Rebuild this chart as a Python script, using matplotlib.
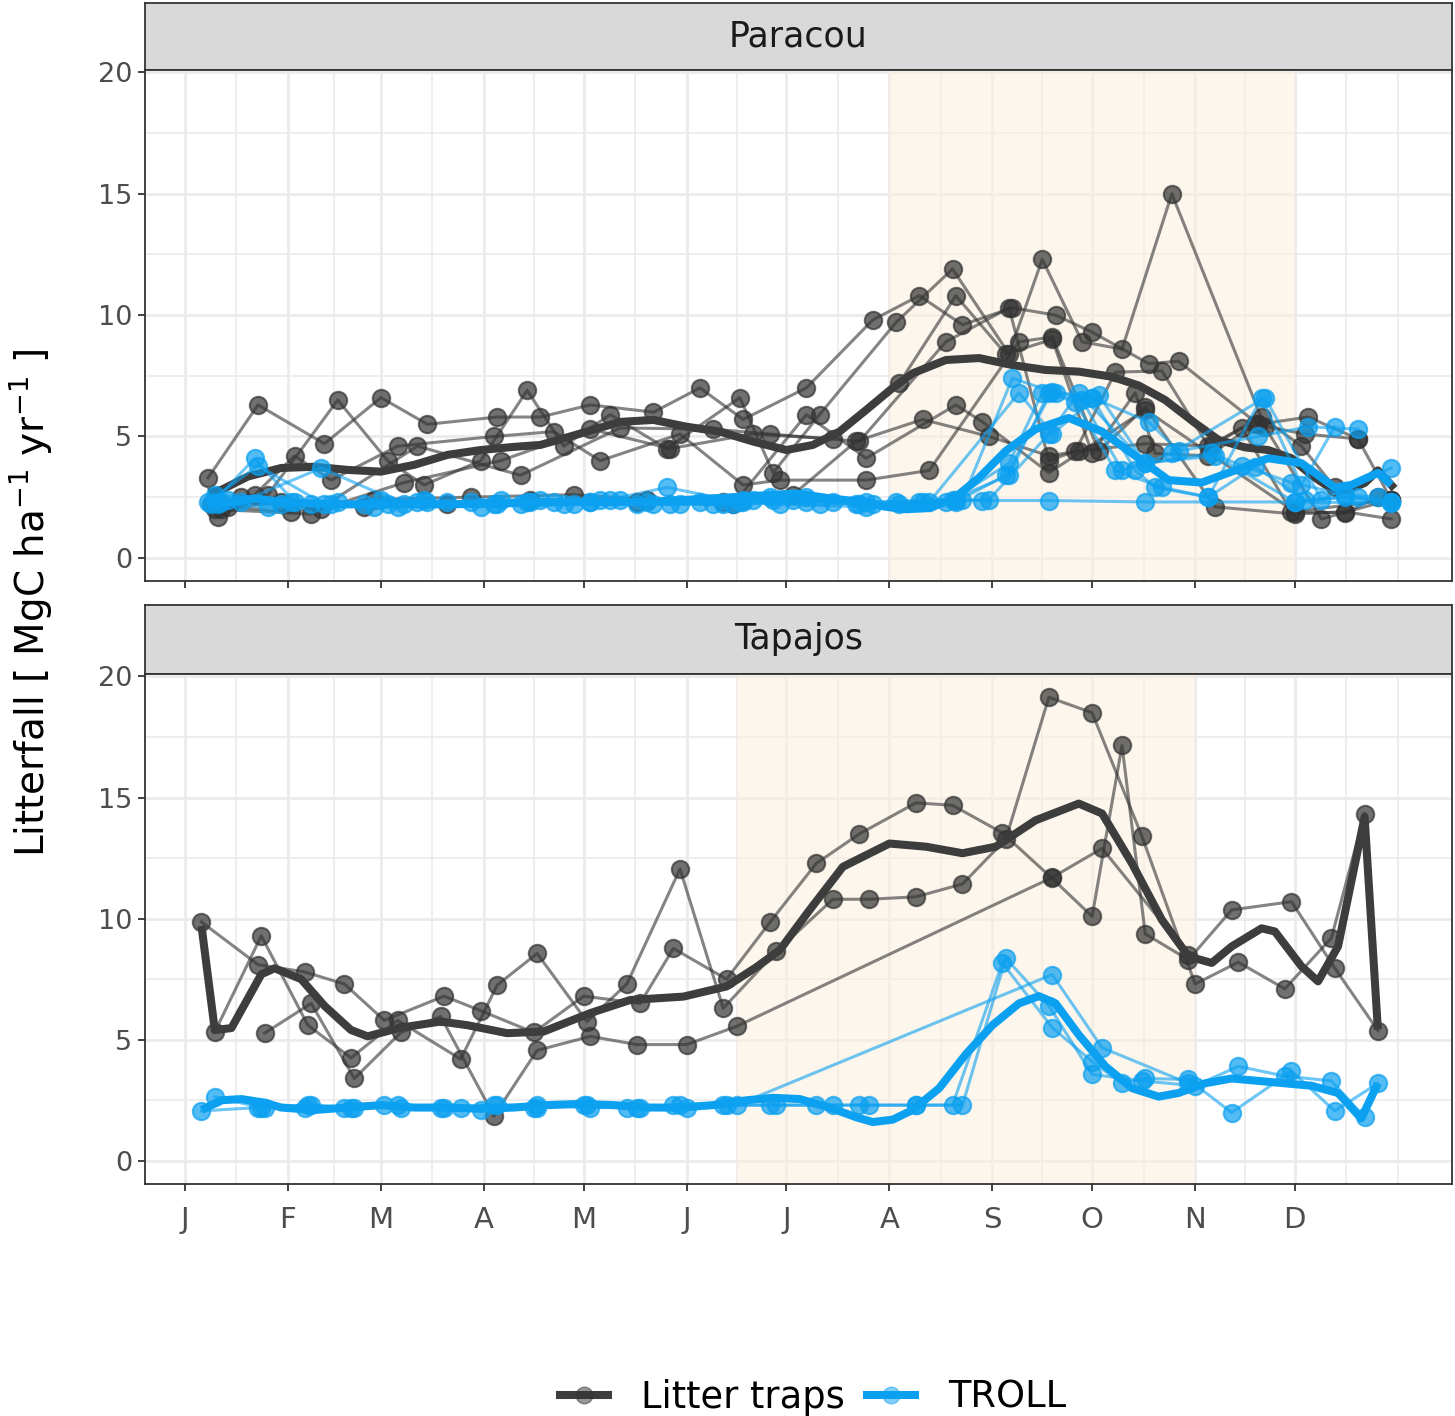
import matplotlib.pyplot as plt
from matplotlib.lines import Line2D

# month starts (day of year) and their labels
month_doy = [1, 32, 60, 91, 121, 152, 182, 213, 244, 274, 305, 335]
month_lab = ["J", "F", "M", "A", "M", "J", "J", "A", "S", "O", "N", "D"]
minor_doy = [16.5, 46, 75.5, 106, 136.5, 167, 197.5, 228.5, 259, 289.5, 320, 350.5, 366]

# dry season (shaded)
par_dry = [213, 335]
tap_dry = [167, 305]

# ---- Paracou: litter traps and TROLL at the same dates, one list per year
par1_doy = [8, 23, 43, 60, 74, 95, 108, 123, 142, 156, 169, 188, 208, 222, 235, 250, 263, 274, 291, 300, 324, 339, 354]
par1_trap = [3.3, 6.3, 4.7, 6.6, 5.5, 5.8, 5.8, 6.3, 6.0, 7.0, 5.7, 7.0, 9.8, 10.8, 9.6, 10.3, 10.0, 9.3, 8.0, 8.1, 5.5, 5.8, 4.9]
par1_troll = [2.3, 3.8, 2.2, 2.4, 2.3, 2.2, 2.4, 2.3, 2.2, 2.3, 2.4, 2.5, 2.2, 2.3, 2.4, 7.4, 6.8, 6.6, 5.6, 4.4, 5.0, 5.4, 5.3]

par2_doy = [11, 26, 47, 62, 73, 90, 104, 115, 129, 146, 168, 178, 192, 215, 232, 249, 259, 271, 283, 298, 326, 343, 364]
par2_trap = [1.7, 2.6, 6.5, 4.0, 3.0, 4.0, 6.9, 4.6, 5.9, 4.5, 6.6, 3.5, 5.9, 9.7, 11.9, 8.4, 12.3, 8.9, 8.6, 15.0, 5.4, 1.6, 2.4]
par2_troll = [2.2, 2.1, 2.3, 2.2, 2.4, 2.1, 2.3, 2.2, 2.4, 2.9, 2.3, 2.4, 2.2, 2.3, 2.4, 3.9, 6.8, 6.5, 3.6, 4.3, 6.6, 2.4, 3.7]

par3_doy = [9, 22, 34, 45, 65, 94, 112, 126, 150, 169, 180, 206, 225, 252, 262, 276, 290, 311, 335, 350, 364]
par3_trap = [2.2, 2.6, 4.2, 3.2, 4.6, 5.0, 5.2, 4.0, 5.1, 3.0, 3.2, 3.2, 3.6, 8.9, 9.1, 4.4, 6.2, 2.1, 1.8, 1.9, 1.6]
par3_troll = [2.2, 4.1, 2.3, 2.2, 2.1, 2.2, 2.3, 2.4, 2.2, 2.3, 2.2, 2.1, 2.3, 6.8, 5.1, 6.7, 3.9, 4.2, 2.3, 2.5, 2.3]

par4_doy = [10, 39, 71, 102, 132, 160, 177, 204, 230, 249, 261, 269, 281, 295, 309, 325, 337, 347]
par4_trap = [2.0, 1.8, 4.6, 3.4, 5.35, 5.3, 5.1, 4.8, 8.9, 10.3, 4.0, 4.4, 7.65, 7.7, 4.6, 5.8, 4.6, 2.9]
par4_troll = [2.6, 2.2, 2.3, 2.2, 2.4, 2.2, 2.5, 2.2, 2.3, 3.4, 6.8, 6.4, 3.6, 2.9, 2.5, 6.6, 3.0, 5.4]

par5_doy = [12, 30, 55, 80, 105, 137, 166, 188, 206, 233, 241, 261, 290, 335, 364]
par5_trap = [2.0, 2.3, 2.1, 2.2, 2.4, 2.3, 2.2, 5.9, 4.1, 6.3, 5.6, 3.5, 6.1, 1.9, 2.4]
par5_troll = [2.3, 2.2, 2.2, 2.3, 2.3, 2.2, 2.2, 2.3, 2.3, 2.4, 2.36, 2.36, 2.3, 2.3, 2.26]

par6_doy = [14, 33, 58, 87, 118, 140, 163, 184, 203, 223, 243, 261, 270, 290, 310, 319, 334, 350, 360]
par6_trap = [2.1, 1.9, 2.4, 2.5, 2.6, 2.4, 2.3, 2.6, 4.8, 5.7, 5.0, 4.2, 4.4, 4.7, 4.6, 5.35, 1.9, 1.85, 2.5]
par6_troll = [2.4, 2.3, 2.1, 2.3, 2.2, 2.3, 2.2, 2.4, 2.2, 2.3, 2.4, 5.1, 6.8, 3.9, 4.3, 3.8, 3.1, 2.6, 2.5]

par7_doy = [18, 42, 67, 96, 123, 147, 172, 196, 216, 233, 248, 262, 274, 287, 293, 309, 323, 338, 354, 364]
par7_trap = [2.5, 2.0, 3.1, 4.0, 5.3, 4.5, 5.1, 4.9, 7.2, 10.8, 8.4, 9.0, 4.3, 6.8, 4.3, 4.2, 5.5, 5.1, 4.9, 2.4]
par7_troll = [2.3, 3.7, 2.2, 2.4, 2.3, 2.2, 2.4, 2.3, 2.2, 2.3, 3.4, 6.85, 6.6, 3.6, 2.9, 2.5, 3.75, 2.4, 2.5, 2.3]

# Paracou smoothed means
par_mean_doy = [8, 12, 20, 30, 40, 50, 60, 70, 80, 90, 100, 108, 117, 132, 142, 152, 162, 172, 182, 190, 198, 206,
                214, 220, 230, 240, 250, 260, 270, 280, 288, 296, 305, 312, 320, 327, 334, 340, 346, 351, 356, 360, 365]
par_mean_trap = [2.7, 2.8, 3.35, 3.7, 3.75, 3.62, 3.55, 3.83, 4.24, 4.44, 4.57, 4.65, 5.0, 5.6, 5.68, 5.4, 5.2, 4.79,
                 4.44, 4.65, 5.2, 6.09, 7.0, 7.6, 8.15, 8.23, 7.94, 7.74, 7.67, 7.46, 7.1, 6.5, 5.55, 4.86, 4.55, 4.44,
                 4.1, 3.4, 2.85, 2.8, 3.08, 3.6, 2.85]
par_mean_troll_doy = [8, 15, 22, 30, 45, 60, 80, 100, 120, 140, 160, 185, 195, 205, 212, 218, 225, 232, 240, 248, 257,
                      267, 277, 287, 297, 307, 317, 327, 337, 347, 352, 360, 364]
par_mean_troll = [2.2, 2.3, 2.45, 2.3, 2.2, 2.2, 2.2, 2.25, 2.3, 2.3, 2.45, 2.65, 2.45, 2.3, 2.1, 2.0, 2.05, 2.4, 3.3,
                  4.4, 5.3, 5.76, 5.2, 4.2, 3.2, 3.1, 3.6, 4.1, 3.9, 2.9, 3.0, 3.5, 3.0]

# ---- Tapajos
tap1_doy = [6, 23, 37, 49, 61, 79, 90, 106, 121, 138, 148, 164, 177, 191, 204, 221, 232, 247, 262, 274, 283, 290, 303, 316, 334, 347, 360]
tap1_trap = [9.86, 8.1, 7.8, 7.3, 5.8, 6.8, 6.2, 5.3, 6.8, 6.5, 8.77, 7.5, 9.84, 12.28, 13.5, 14.78, 14.68, 13.54, 11.66, 10.09, 17.15, 9.37, 8.3, 10.36, 10.7, 7.96, 5.38]
tap1_troll = [2.06, 2.2, 2.2, 2.2, 2.3, 2.2, 2.1, 2.2, 2.3, 2.2, 2.3, 2.3, 2.3, 2.3, 2.3, 2.3, 2.3, 8.17, 5.5, 4.1, 3.2, 3.4, 3.36, 1.99, 3.7, 2.06, 3.2]

tap2_doy = [10, 24, 38, 51, 65, 84, 95, 107, 122, 134, 150, 163, 179, 196, 207, 221, 235, 248, 261, 274, 289, 305, 318, 332, 346, 356]
tap2_trap = [5.32, 9.29, 5.6, 4.25, 5.8, 4.2, 7.26, 8.56, 5.75, 7.3, 12.05, 6.3, 8.65, 10.8, 10.8, 10.9, 11.43, 13.27, 19.14, 18.5, 13.4, 7.3, 8.2, 7.1, 9.2, 14.34]
tap2_troll = [2.64, 2.2, 2.3, 2.2, 2.3, 2.2, 2.3, 2.2, 2.3, 2.2, 2.3, 2.3, 2.3, 2.3, 2.3, 2.3, 2.3, 8.37, 6.4, 3.57, 3.3, 3.1, 3.9, 3.5, 3.3, 1.8]

tap3_doy = [25, 39, 52, 66, 78, 94, 107, 123, 137, 152, 167, 262, 277, 303]
tap3_trap = [5.27, 6.5, 3.4, 5.3, 5.96, 1.85, 4.56, 5.14, 4.8, 4.8, 5.55, 11.7, 12.9, 8.5]
tap3_troll = [2.2, 2.3, 2.2, 2.2, 2.2, 2.3, 2.3, 2.2, 2.2, 2.2, 2.3, 7.69, 4.67, 3.2]

tap_mean_doy = [6, 10, 15, 24, 28, 36, 43, 51, 56, 66, 78, 86, 98, 109, 123, 135, 151, 164, 173, 180, 189, 199, 213,
                224, 235, 245, 257, 270, 277, 286, 295, 303, 310, 316, 325, 329, 337, 342, 348, 356, 360]
tap_mean_trap = [9.7, 5.4, 5.48, 7.7, 7.95, 7.5, 6.4, 5.4, 5.14, 5.5, 5.75, 5.6, 5.27, 5.34, 6.1, 6.64, 6.78, 7.2, 8.0,
                 8.7, 10.36, 12.14, 13.1, 12.97, 12.7, 12.97, 14.06, 14.75, 14.34, 12.28, 9.95, 8.44, 8.17, 8.85, 9.6,
                 9.47, 8.03, 7.41, 8.85, 14.2, 5.42]
tap_mean_troll_doy = [6, 12, 18, 25, 30, 40, 50, 60, 70, 80, 90, 100, 110, 120, 130, 140, 150, 160, 170, 178, 186, 195,
                      203, 208, 214, 220, 228, 236, 244, 252, 258, 263, 270, 278, 286, 294, 300, 308, 316, 324, 332,
                      340, 348, 355, 360]
tap_mean_troll = [2.1, 2.5, 2.55, 2.4, 2.2, 2.1, 2.2, 2.3, 2.2, 2.2, 2.15, 2.2, 2.3, 2.35, 2.3, 2.2, 2.2, 2.3, 2.5,
                  2.6, 2.55, 2.2, 1.8, 1.6, 1.7, 2.1, 3.0, 4.4, 5.6, 6.5, 6.8, 6.5, 5.2, 3.9, 3.0, 2.65, 2.8, 3.2,
                  3.4, 3.3, 3.2, 3.1, 2.8, 1.75, 3.2]

gray = "#333333"
blue = "#0ba0f0"
gray_mean = "#3d3d3d"

W, H = 1455, 1416
fig = plt.figure(figsize=(W / 100, H / 100), dpi=100)


def rect(l, t, r, b):
    return [l / W, 1 - b / H, (r - l) / W, (b - t) / H]


def draw_strip(box, label):
    sax = fig.add_axes(rect(*box))
    sax.set_facecolor("#d9d9d9")
    sax.set_xticks([])
    sax.set_yticks([])
    for sp in sax.spines.values():
        sp.set_color("#333333")
        sp.set_linewidth(1.3)
    sax.text(0.5, 0.5, label, ha="center", va="center", fontsize=25, color="#1a1a1a",
             transform=sax.transAxes)


def draw_panel(box, dry, years, mean_trap, mean_troll, show_labels):
    ax = fig.add_axes(rect(*box))
    ax.set_xlim(-11, 382.3)
    ax.set_ylim(-0.957, 20.1)
    for d in month_doy:
        ax.axvline(d, color="#ebebeb", lw=2.0, zorder=0.5)
    for d in minor_doy:
        ax.axvline(d, color="#ebebeb", lw=1.2, zorder=0.5)
    for v in [0, 5, 10, 15, 20]:
        ax.axhline(v, color="#ebebeb", lw=2.0, zorder=0.5)
    for v in [2.5, 7.5, 12.5, 17.5]:
        ax.axhline(v, color="#ebebeb", lw=1.2, zorder=0.5)
    ax.axvspan(dry[0], dry[1], color="#fbefde", alpha=0.55, lw=0, zorder=0.8)

    for d, trap, troll in years:
        ax.plot(d, trap, color=gray, lw=2.2, alpha=0.6, zorder=2)
        ax.plot(d, trap, "o", ms=12.5, mfc=gray, mec=gray, mew=1.5, alpha=0.7, zorder=2)
    ax.plot(mean_trap[0], mean_trap[1], color=gray_mean, lw=5.8, solid_joinstyle="round",
            solid_capstyle="butt", zorder=3)
    for d, trap, troll in years:
        ax.plot(d, troll, color=blue, lw=2.2, alpha=0.6, zorder=4)
        ax.plot(d, troll, "o", ms=12.5, mfc=blue, mec=blue, mew=1.5, alpha=0.7, zorder=4)
    ax.plot(mean_troll[0], mean_troll[1], color=blue, lw=5.8, solid_joinstyle="round",
            solid_capstyle="butt", zorder=5)

    ax.set_xticks(month_doy)
    ax.set_xticklabels(month_lab if show_labels else [])
    ax.set_yticks([0, 5, 10, 15, 20])
    ax.set_yticklabels(["0", "5", "10", "15", "20"])
    ax.tick_params(length=5, width=1.3, color="#333333", labelcolor="#4d4d4d",
                   labelsize=19.5, pad=4)
    ax.tick_params(axis="x", labelsize=21, pad=11)
    for sp in ax.spines.values():
        sp.set_color("#333333")
        sp.set_linewidth(1.3)
    return ax


par_years = [
    (par1_doy, par1_trap, par1_troll),
    (par2_doy, par2_trap, par2_troll),
    (par3_doy, par3_trap, par3_troll),
    (par4_doy, par4_trap, par4_troll),
    (par5_doy, par5_trap, par5_troll),
    (par6_doy, par6_trap, par6_troll),
    (par7_doy, par7_trap, par7_troll),
]
tap_years = [
    (tap1_doy, tap1_trap, tap1_troll),
    (tap2_doy, tap2_trap, tap2_troll),
    (tap3_doy, tap3_trap, tap3_troll),
]

draw_strip((145, 3, 1452, 70), "Paracou")
draw_panel((145, 70, 1452, 581), par_dry, par_years,
           (par_mean_doy, par_mean_trap), (par_mean_troll_doy, par_mean_troll), False)

draw_strip((145, 605, 1452, 674), "Tapajos")
draw_panel((145, 674, 1452, 1184), tap_dry, tap_years,
           (tap_mean_doy, tap_mean_trap), (tap_mean_troll_doy, tap_mean_troll), True)

fig.text(31 / W, 1 - 603 / H, "Litterfall [ MgC ha$^{-1}$ yr$^{-1}$ ]", rotation=90,
         ha="center", va="center", fontsize=28)

handles = [
    Line2D([0], [0], color=gray_mean, lw=5.8, marker="o", ms=12, mfc=(0.2, 0.2, 0.2, 0.5),
           mec=(0.2, 0.2, 0.2, 0.5)),
    Line2D([0], [0], color=blue, lw=5.8, marker="o", ms=12, mfc=(0.04, 0.63, 0.94, 0.5),
           mec=(0.04, 0.63, 0.94, 0.5)),
]
fig.legend(handles, ["Litter traps", "TROLL"], loc="center", ncol=2,
           bbox_to_anchor=(813 / W, 1 - 1397 / H), frameon=False, fontsize=26.5,
           handlelength=1.3, handletextpad=0.9, columnspacing=0.6)

fig.savefig("out.png", dpi=100)
